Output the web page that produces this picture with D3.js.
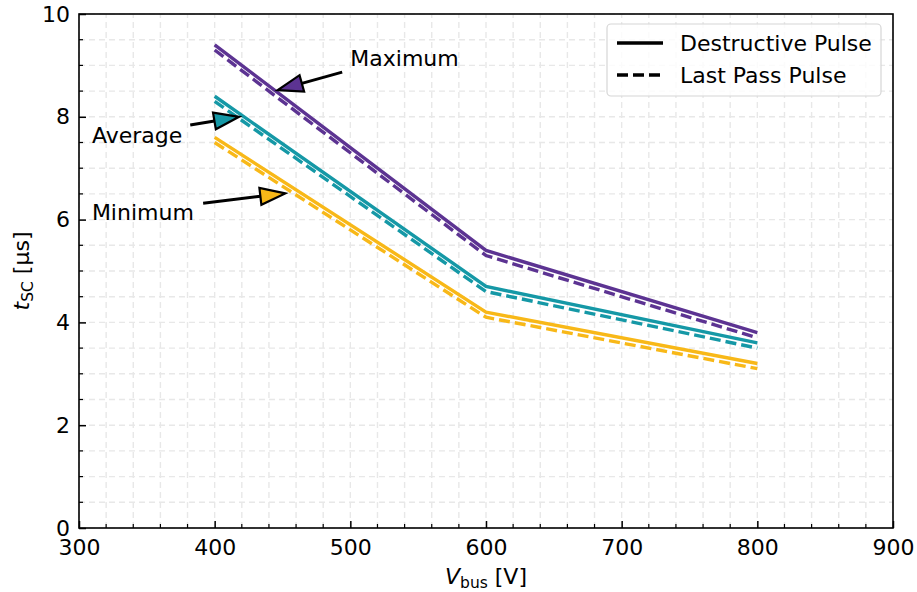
<!DOCTYPE html>
<meta charset="utf-8">
<head>
<script src="https://d3js.org/d3.v7.min.js"></script>
<style>
  body { margin: 0; background: #fff; }
  text { font-family: "DejaVu Sans", sans-serif; }
</style>
</head>
<body>
<div id="chart"></div>
<script>

  var width = 917,
  height = 592;

  var margin = {top: 14, right: 24, bottom: 64, left: 79};
  var fs = 22;

  // data
  var vbus = [400, 600, 800];
  var maxDestructive = [9.4, 5.4, 3.8];
  var maxLastPass = [9.3, 5.3, 3.7];
  var avgDestructive = [8.4, 4.7, 3.6];
  var avgLastPass = [8.3, 4.6, 3.5];
  var minDestructive = [7.6, 4.2, 3.2];
  var minLastPass = [7.5, 4.1, 3.1];

  var xTicks = [300, 400, 500, 600, 700, 800, 900];
  var yTicks = [0, 2, 4, 6, 8, 10];

  var colors = {max: "#5c3392", avg: "#1598a6", min: "#f8b818"};

  var series = [
    {name: "max", type: "solid", values: maxDestructive},
    {name: "max", type: "dash", values: maxLastPass},
    {name: "avg", type: "solid", values: avgDestructive},
    {name: "avg", type: "dash", values: avgLastPass},
    {name: "min", type: "solid", values: minDestructive},
    {name: "min", type: "dash", values: minLastPass}
  ];

  // annotations: text position, arrow tail, arrow tip (data units)
  var notes = [
    {label: "Maximum", key: "max", text: [500, 9.14], tail: [494, 8.87], tip: [446.5, 8.52]},
    {label: "Average", key: "avg", text: [309.5, 7.65], tail: [382, 7.84], tip: [418, 8.0]},
    {label: "Minimum", key: "min", text: [309.5, 6.15], tail: [391.5, 6.32], tip: [452, 6.51]}
  ];

  var svg = d3.select("#chart").append("svg")
  .attr("width", width)
  .attr("height", height);

  var x = d3.scaleLinear().domain([300, 900]).range([margin.left, width - margin.right]);
  var y = d3.scaleLinear().domain([0, 10]).range([height - margin.bottom, margin.top]);

  var xMinor = d3.range(300, 901, 20);
  var yMinor = d3.range(0, 10.01, 0.5);

  // grid
  var grid = svg.append("g").attr("class", "grid");
  grid.selectAll("line.gx").data(xMinor).enter().append("line")
  .attr("x1", d => x(d)).attr("x2", d => x(d))
  .attr("y1", y(0)).attr("y2", y(10))
  .attr("stroke", "#e8e8e8").attr("stroke-width", 1.4).attr("stroke-dasharray", "6,4");
  grid.selectAll("line.gy").data(yMinor).enter().append("line")
  .attr("y1", d => y(d)).attr("y2", d => y(d))
  .attr("x1", x(300)).attr("x2", x(900))
  .attr("stroke", "#e8e8e8").attr("stroke-width", 1.4).attr("stroke-dasharray", "6,4");

  // lines
  var line = d3.line()
  .x((d, i) => x(vbus[i]))
  .y(d => y(d));

  svg.append("g").selectAll("path")
  .data(series)
  .enter().append("path")
  .attr("d", d => line(d.values))
  .attr("fill", "none")
  .attr("stroke", d => colors[d.name])
  .attr("stroke-width", 3.4)
  .attr("stroke-dasharray", d => d.type == "dash" ? "11,5" : null);

  // axes
  var xAxis = d3.axisBottom(x).tickValues(xTicks).tickSize(-7).tickPadding(9);
  var yAxis = d3.axisLeft(y).tickValues(yTicks).tickSize(-7).tickPadding(9);

  var gx = svg.append("g").attr("transform", "translate(0," + y(0) + ")").call(xAxis);
  var gy = svg.append("g").attr("transform", "translate(" + x(300) + ",0)").call(yAxis);

  gx.selectAll("line.minor").data(xMinor.filter(d => d % 100 != 0)).enter().append("line")
  .attr("x1", d => x(d)).attr("x2", d => x(d)).attr("y1", 0).attr("y2", -4)
  .attr("stroke", "#000").attr("stroke-width", 1.2);
  gy.selectAll("line.minor").data(yMinor.filter(d => d % 2 != 0)).enter().append("line")
  .attr("y1", d => y(d)).attr("y2", d => y(d)).attr("x1", 0).attr("x2", 4)
  .attr("stroke", "#000").attr("stroke-width", 1.2);

  [gx, gy].forEach(function(g) {
    g.select(".domain").remove();
    g.selectAll(".tick line").attr("stroke-width", 1.5);
    g.selectAll(".tick text").attr("font-size", fs).attr("fill", "#000")
    .style("font-family", "'DejaVu Sans', sans-serif");
  });
  gx.selectAll(".tick text").attr("dy", "0.8em");

  // frame
  svg.append("rect")
  .attr("x", x(300)).attr("y", y(10))
  .attr("width", x(900) - x(300)).attr("height", y(0) - y(10))
  .attr("fill", "none").attr("stroke", "#000").attr("stroke-width", 1.6);

  // annotations
  var ann = svg.append("g");
  notes.forEach(function(n) {
    var tx = x(n.tip[0]), ty = y(n.tip[1]);
    var sx = x(n.tail[0]), sy = y(n.tail[1]);
    var ang = Math.atan2(ty - sy, tx - sx);
    var hl = 25, hw = 8.5;
    var bx = tx - hl * Math.cos(ang), by = ty - hl * Math.sin(ang);
    ann.append("line")
    .attr("x1", sx).attr("y1", sy).attr("x2", bx).attr("y2", by)
    .attr("stroke", "#000").attr("stroke-width", 3);
    var pts = [
      [tx, ty],
      [bx + hw * Math.sin(ang), by - hw * Math.cos(ang)],
      [bx - hw * Math.sin(ang), by + hw * Math.cos(ang)]
    ];
    ann.append("polygon")
    .attr("points", pts.map(p => p.join(",")).join(" "))
    .attr("fill", colors[n.key]).attr("stroke", "#000").attr("stroke-width", 2.2)
    .attr("stroke-linejoin", "miter");
    ann.append("text")
    .attr("x", x(n.text[0])).attr("y", y(n.text[1]))
    .attr("dy", "0.36em")
    .attr("font-size", fs)
    .text(n.label);
  });

  // legend
  var leg = svg.append("g");
  leg.append("rect")
  .attr("x", 607).attr("y", 24).attr("width", 274).attr("height", 72).attr("rx", 4)
  .attr("fill", "#fff").attr("fill-opacity", 0.8).attr("stroke", "#d6d6d6").attr("stroke-width", 1.2);
  [{label: "Destructive Pulse", dash: null}, {label: "Last Pass Pulse", dash: "11,5"}].forEach(function(d, i) {
    var ly = 43 + i * 32;
    leg.append("line")
    .attr("x1", 617).attr("x2", 663).attr("y1", ly).attr("y2", ly)
    .attr("stroke", "#000").attr("stroke-width", 3.4)
    .attr("stroke-dasharray", d.dash);
    leg.append("text")
    .attr("x", 680).attr("y", ly).attr("dy", "0.36em")
    .attr("font-size", fs)
    .text(d.label);
  });

  // axis labels
  var xl = svg.append("text")
  .attr("x", x(600)).attr("y", 584)
  .attr("text-anchor", "middle").attr("font-size", fs);
  xl.append("tspan").attr("font-style", "italic").text("V");
  xl.append("tspan").attr("font-size", 15.5).attr("dy", 4).text("bus");
  xl.append("tspan").attr("dy", -4).text(" [V]");

  var yl = svg.append("text")
  .attr("transform", "translate(29," + y(5) + ") rotate(-90)")
  .attr("text-anchor", "middle").attr("font-size", fs);
  yl.append("tspan").attr("font-style", "italic").text("t");
  yl.append("tspan").attr("font-size", 15.5).attr("dy", 4).text("SC");
  yl.append("tspan").attr("dy", -4).text(" [µs]");

</script>
</body>
